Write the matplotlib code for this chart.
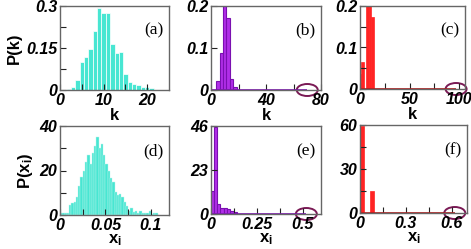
import numpy as np
import matplotlib
matplotlib.use("Agg")
import matplotlib.pyplot as plt
from matplotlib.patches import Ellipse
from matplotlib.transforms import ScaledTranslation
from matplotlib.ticker import FixedLocator

# ------------------------------------------------------------------
# DATA
# ------------------------------------------------------------------
# (a) degree distribution, bins of width 1 centred on integer k
k_a = np.arange(2, 22)
p_a = [0.002, 0.010, 0.036, 0.099, 0.117, 0.145, 0.210, 0.293, 0.276, 0.274,
       0.164, 0.131, 0.135, 0.057, 0.029, 0.021, 0.018, 0.010, 0.010, 0.006]

# (b) degree distribution, bins of width 2.5
k_b = [5.0, 7.5, 10.0, 12.5, 15.0, 17.5]
p_b = [0.022, 0.089, 0.205, 0.171, 0.027, 0.006]
kmax_b = 70

# (c) degree distribution, bins of width 2.5
k_c = [0.0, 2.5, 5.0, 7.5, 10.0, 12.5]
p_c = [0.036, 0.065, 0.0, 0.21, 0.21, 0.173]
kmax_c = 97

# (d) distribution of x_i, bins of width 0.0025
x_d = 0.00125 + 0.0025 * np.arange(43)
p_d = [1, 1, 1, 1, 4.5, 5.5, 6, 8, 13, 17, 20, 24, 27, 23, 28, 31, 35, 30, 32,
       27, 23, 20, 16.5, 15, 10.5, 9, 9.5, 8, 6, 4, 2, 3, 1.5, 2, 0.7, 2, 1,
       1, 1, 2, 0.5, 0.7, 1]

# (e) distribution of x_i
x_e = [0.006, 0.024, 0.042, 0.060, 0.078, 0.096, 0.114, 0.132]
p_e = [12.2, 45.3, 5.2, 3.0, 3.0, 2.4, 1.7, 1.0]
xmax_e = 0.52

# (f) distribution of x_i
x_f = [0.0125, 0.0775]
p_f = [59.3, 15.0]
xmax_f = 0.62

cyan = "#48e6d2"
purple = "#b02ee8"
purple_edge = "#7a10b0"
red = "#ff2424"
red_edge = "#b01818"
ring = "#7a1a55"

plt.rcParams["font.family"] = ["Liberation Sans", "DejaVu Sans"]
plt.rcParams["mathtext.fontset"] = "custom"
plt.rcParams["mathtext.bf"] = "Liberation Sans:bold"

fig = plt.figure(figsize=(4.71, 2.49), dpi=100)
W, H = 471.0, 249.0


def add_ax(left, right, top, bottom):
    return fig.add_axes([left / W, 1 - bottom / H, (right - left) / W, (bottom - top) / H])


axes = [add_ax(60, 169, 6, 90), add_ax(211, 321, 6, 90), add_ax(360, 465, 6, 89),
        add_ax(60, 169, 126, 215), add_ax(211, 321, 126, 214), add_ax(360, 467, 125, 213)]
ax_a, ax_b, ax_c, ax_d, ax_e, ax_f = axes

ax_a.bar(k_a, p_a, width=1.0, color=cyan, edgecolor="white", linewidth=0.5)
ax_b.bar(k_b, p_b, width=2.5, color=purple, edgecolor=purple_edge, linewidth=0.8)
ax_b.hlines(0, 0, kmax_b, color=purple_edge, linewidth=1.2)
ax_c.bar(k_c, p_c, width=2.5, color=red, edgecolor=red, linewidth=0.5)
ax_c.hlines(0, 0, kmax_c, color=red_edge, linewidth=1.2)
ax_d.bar(x_d, p_d, width=0.0025, color=cyan, edgecolor="#bff5ee", linewidth=0.3)
ax_e.bar(x_e, p_e, width=0.018, color=purple, edgecolor=purple_edge, linewidth=0.8)
ax_e.hlines(0, 0, xmax_e, color=purple_edge, linewidth=1.2)
ax_f.bar(x_f, p_f, width=0.025, color=red, edgecolor=red, linewidth=0.5)
ax_f.hlines(0, 0, xmax_f, color=red_edge, linewidth=1.2)

limits = [((0, 25), (0, 0.3)), ((0, 80), (0, 0.2)), ((0, 106), (0, 0.2)),
          ((0, 0.12), (0, 40)), ((0, 0.6), (0, 46)), ((0, 0.7), (0, 60))]
xmaj = [[0, 10, 20], [0, 40, 80], [0, 50, 100], [0, 0.05, 0.1], [0, 0.25, 0.5], [0, 0.3, 0.6]]
xlab = [["0", "10", "20"], ["0", "40", "80"], ["0", "50", "100"],
        ["0", "0.05", "0.1"], ["0", "0.25", "0.5"], ["0", "0.3", "0.6"]]
xmin_ = [[5, 15], [20, 60], [25, 75], [0.025, 0.075], [0.125, 0.375], [0.15, 0.45]]
ymaj = [[0, 0.15, 0.3], [0, 0.1, 0.2], [0, 0.1, 0.2], [0, 20, 40], [0, 23, 46], [0, 30, 60]]
ylab = [["0", "0.15", "0.3"], ["0", "0.1", "0.2"], ["0", "0.1", "0.2"],
        ["0", "20", "40"], ["0", "23", "46"], ["0", "30", "60"]]
ymin_ = [[0.075, 0.225], [], [0.05, 0.15], [10, 30], [], [15, 45]]
letters = ["(a)", "(b)", "(c)", "(d)", "(e)", "(f)"]

for i, ax in enumerate(axes):
    ax.set_xlim(*limits[i][0])
    ax.set_ylim(*limits[i][1])
    ax.xaxis.set_major_locator(FixedLocator(xmaj[i]))
    ax.set_xticklabels(xlab[i])
    ax.yaxis.set_major_locator(FixedLocator(ymaj[i]))
    ax.set_yticklabels(ylab[i])
    ax.xaxis.set_minor_locator(FixedLocator(xmin_[i]))
    ax.yaxis.set_minor_locator(FixedLocator(ymin_[i]))
    ax.tick_params(which="both", direction="in", length=4, width=0.8, color="#222222",
                   labelsize=11.5, pad=2)
    for lab in ax.get_xticklabels() + ax.get_yticklabels():
        lab.set_fontweight("bold")
        lab.set_fontstyle("italic")
    for sp in ax.spines.values():
        sp.set_color("#666666")
        sp.set_linewidth(1.0)
    ax.text(0.95, 0.71, letters[i], transform=ax.transAxes, ha="right", va="center",
            fontsize=12.5, family=["Liberation Serif", "DejaVu Serif"])

for ax in axes[:3]:
    ax.set_xlabel("k", fontweight="bold", fontsize=12, labelpad=0)
for ax in axes[3:]:
    ax.set_xlabel(r"$\mathbf{x_i}$", fontsize=12, labelpad=0)
ax_a.set_ylabel("P(k)", fontweight="bold", fontsize=12, labelpad=3)
ax_d.set_ylabel(r"$\mathbf{P(x_i)}$", fontsize=12, labelpad=3)

# rings marking the hub (fixed size in pixels, centred on the hub value)
for ax, xc in [(ax_b, kmax_b), (ax_c, kmax_c), (ax_e, xmax_e), (ax_f, xmax_f)]:
    tr = fig.dpi_scale_trans + ScaledTranslation(xc, 0, ax.transData)
    ax.add_patch(Ellipse((0, 0), width=0.21, height=0.12, transform=tr,
                         fill=False, edgecolor=ring, linewidth=1.4, clip_on=False))

fig.savefig("out.png", dpi=100)
